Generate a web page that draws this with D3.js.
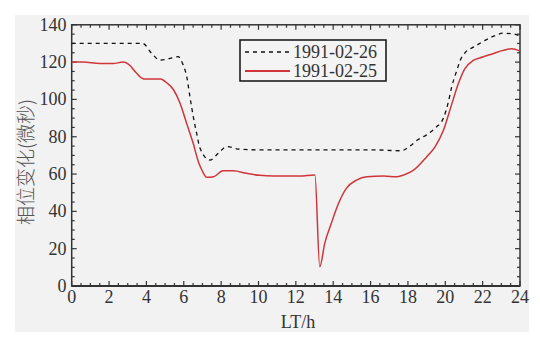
<!DOCTYPE html>
<html>
<head>
<meta charset="utf-8">
<script src="https://d3js.org/d3.v7.min.js"></script>
<style>
  body { margin: 0; background: #fff; }
  svg { display: block; }
</style>
</head>
<body>
<div class="chart"></div>
<script>
// data
var hours26 = [0, 3.8, 4.28, 4.73, 5.26, 5.7, 5.97, 6.16, 6.33, 6.51, 6.69, 6.87, 7.4, 7.85, 8.29, 9.0, 10, 12, 14, 16, 17.65, 18.1, 18.55, 19.0, 19.5, 19.9, 20.15, 20.35, 20.6, 20.8, 21.1, 21.6, 22.0, 22.5, 23.1, 23.7, 24];
var phase26 = [130, 130, 124.7, 121.1, 122, 122.9, 118.4, 112.2, 101.4, 90.7, 81.8, 73.8, 67.5, 71.1, 74.7, 73.3, 73, 73, 73, 73, 72.5, 75, 78.5, 81, 85, 90, 98, 107, 115, 121, 125.5, 128.5, 131, 133.5, 135.5, 135, 134];

var hours25 = [0, 0.6, 1.5, 2.2, 2.75, 3.05, 3.45, 3.85, 4.3, 4.75, 5.1, 5.45, 5.8, 6.15, 6.5, 6.8, 7.0, 7.22, 7.6, 8.1, 8.65, 9.35, 10.05, 10.8, 12.2, 13.02, 13.28, 13.55, 13.9, 14.25, 14.7, 15.25, 15.8, 16.7, 17.4, 17.9, 18.3, 19.0, 19.45, 19.9, 20.3, 20.7, 21.05, 21.5, 22.0, 22.55, 23.1, 23.55, 24];
var phase25 = [120, 120, 119.2, 119.2, 120, 118.8, 114.3, 111, 111, 111, 108.8, 105.2, 98, 87.3, 76.6, 66, 61.5, 58.3, 58.6, 61.8, 61.8, 60.4, 59.3, 58.9, 58.9, 59.5, 10.3, 23, 33.6, 43.4, 52.3, 56.8, 58.6, 58.9, 58.6, 60, 62.1, 69.2, 74.6, 83.5, 96, 108.5, 116.5, 120.9, 122.7, 124.5, 126.3, 127.2, 125.9];

var seriesNames = ["1991-02-26", "1991-02-25"];
var xTicks = d3.range(0, 25, 2);
var yTicks = d3.range(0, 141, 20);
var yLabel = "相位变化(微秒)";
var xLabel = "LT/h";

var W = 540, H = 337;
var margin = {top: 25, right: 20, bottom: 51, left: 71.7};
var serif = "'Liberation Serif', 'DejaVu Serif', serif";
var ink = "#333";
var red = "#d0353b";

var svg = d3.select(".chart").append("svg")
    .attr("width", W)
    .attr("height", H);

// grey panel behind the whole figure
svg.append("rect")
    .attr("x", 15).attr("y", 15)
    .attr("width", 514).attr("height", 317)
    .attr("fill", "#f2f2f2");

var x = d3.scaleLinear().domain([0, 24]).range([margin.left, 520]);
var y = d3.scaleLinear().domain([0, 140]).range([286, 24.8]);

var g = svg.append("g");

// ticks on all four sides, pointing inward
function ticks(values, len, cls) {
  values.forEach(function(v) {
    g.append("line").attr("class", cls)
      .attr("x1", x(v)).attr("x2", x(v)).attr("y1", y(0)).attr("y2", y(0) - len);
    g.append("line").attr("class", cls)
      .attr("x1", x(v)).attr("x2", x(v)).attr("y1", y(140)).attr("y2", y(140) + len);
  });
}
function yticks(values, len, cls) {
  values.forEach(function(v) {
    g.append("line").attr("class", cls)
      .attr("x1", x(0)).attr("x2", x(0) + len).attr("y1", y(v)).attr("y2", y(v));
    g.append("line").attr("class", cls)
      .attr("x1", x(24)).attr("x2", x(24) - len).attr("y1", y(v)).attr("y2", y(v));
  });
}
ticks(d3.range(0, 24.01, 0.5).filter(function(v) { return v % 2 != 0; }), 3, "minor");
ticks(xTicks, 5, "major");
yticks(d3.range(0, 140.1, 5).filter(function(v) { return v % 20 != 0; }), 3, "minor");
yticks(yTicks, 5, "major");
g.selectAll("line").attr("stroke", ink).attr("stroke-width", 1.2);

// frame
g.append("rect")
    .attr("x", x(0)).attr("y", y(140))
    .attr("width", x(24) - x(0)).attr("height", y(0) - y(140))
    .attr("fill", "none").attr("stroke", ink).attr("stroke-width", 1.5);
g.append("line")
    .attr("x1", x(0)).attr("x2", x(24)).attr("y1", y(0)).attr("y2", y(0))
    .attr("stroke", ink).attr("stroke-width", 2);

// tick labels
svg.selectAll(".xlab").data(xTicks).enter().append("text")
    .attr("x", function(d) { return x(d); })
    .attr("y", 303)
    .attr("text-anchor", "middle")
    .style("font-family", serif).style("font-size", "18px").attr("fill", ink)
    .text(function(d) { return d; });
svg.selectAll(".ylab").data(yTicks).enter().append("text")
    .attr("x", 66.5)
    .attr("y", function(d) { return y(d) + 6; })
    .attr("text-anchor", "end")
    .style("font-family", serif).style("font-size", "18px").attr("fill", ink)
    .text(function(d) { return d; });

// axis titles
svg.append("text")
    .attr("transform", "translate(33,162) rotate(-90)")
    .attr("text-anchor", "middle")
    .style("font-family", "'Noto Sans CJK SC', sans-serif").style("font-size", "19px")
    .style("font-weight", 300)
    .attr("fill", "#555")
    .text(yLabel);
svg.append("text")
    .attr("x", 298).attr("y", 328)
    .attr("text-anchor", "middle")
    .style("font-family", serif).style("font-size", "18px").attr("fill", ink)
    .text(xLabel);

// the lines
var line = d3.line()
    .x(function(d) { return x(d[0]); })
    .y(function(d) { return y(d[1]); })
    .curve(d3.curveMonotoneX);

svg.append("path")
    .datum(d3.zip(hours26, phase26))
    .attr("d", line)
    .attr("fill", "none").attr("stroke", "#111")
    .attr("stroke-width", 1.3).attr("stroke-dasharray", "4,4");
svg.append("path")
    .datum(d3.zip(hours25, phase25))
    .attr("d", line)
    .attr("fill", "none").attr("stroke", red)
    .attr("stroke-width", 1.5);

// legend
var lg = svg.append("g");
lg.append("rect")
    .attr("x", 240).attr("y", 40).attr("width", 146).attr("height", 41)
    .attr("fill", "#f4f4f4").attr("stroke", "#111").attr("stroke-width", 1.5);
seriesNames.forEach(function(name, i) {
  var ly = 52 + i * 19;
  lg.append("line")
    .attr("x1", 245).attr("x2", 290).attr("y1", ly).attr("y2", ly)
    .attr("stroke", i == 0 ? "#111" : red)
    .attr("stroke-width", i == 0 ? 1.3 : 1.8)
    .attr("stroke-dasharray", i == 0 ? "4,4" : null);
  lg.append("text")
    .attr("x", 293).attr("y", ly + 6)
    .style("font-family", serif).style("font-size", "18px").attr("fill", ink)
    .text(name);
});
</script>
</body>
</html>
